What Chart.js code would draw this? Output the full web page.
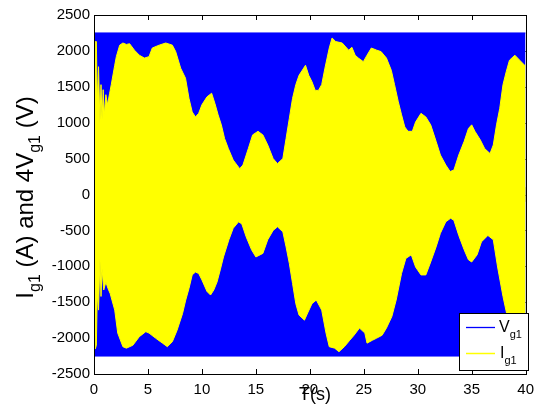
<!DOCTYPE html>
<html lang="en">
<head>
  <meta charset="UTF-8">
  <title>Ig1 and 4Vg1</title>
  <style>
    body { margin: 0; background: #fff; }
    canvas { display: block; }
  </style>
</head>
<body>
  <canvas id="chart" width="541" height="409"></canvas>
  <script src="https://cdn.jsdelivr.net/npm/chart.js"></script>
  <script>
    // V_g1 (x4) band: fast oscillation, seen as a solid band
    const vTime = [0, 40];
    const vHigh = [2250, 2250];
    const vLow = [-2250, -2250];

    // I_g1 upper envelope
    const upperTime = [0, 0.12, 0.22, 0.3, 0.42, 0.55, 0.65, 0.75, 0.85, 0.95, 1.1, 1.25, 1.45, 1.6, 1.92, 2.07, 2.38, 2.68, 3.0, 3.3,
      3.75, 4.2, 4.67, 5.1, 5.4, 6.04, 6.65, 7.26, 7.57, 8.03, 8.48, 8.8, 9.1, 9.4, 9.7, 10.0, 10.47, 10.9, 11.2, 11.5,
      11.8, 12.1, 12.45, 12.9, 13.5, 13.8, 14.3, 14.7, 15.2, 15.65, 16.1, 16.6, 17.0, 17.5, 17.8, 18.1, 18.4, 18.7, 19.0, 19.3,
      19.6, 19.9, 20.2, 20.5, 20.8, 21.1, 21.4, 21.8, 22.06, 22.4, 23.0, 23.6, 23.9, 24.2, 24.5, 24.96, 25.3, 25.7, 26.2, 26.6,
      27.1, 27.55, 27.85, 28.2, 28.5, 28.8, 29.1, 29.5, 29.8, 30.3, 30.75, 31.2, 31.7, 32.1, 32.6, 33.0, 33.35, 33.8, 34.3, 34.7,
      35.0, 35.3, 35.8, 36.2, 36.7, 37.0, 37.3, 37.6, 37.9, 38.2, 38.5, 39.0, 39.45, 39.9, 40];
    const upperI = [850, 2130, 2130, 1250, 1780, 1000, 1530, 1040, 1460, 1100, 1390, 1250, 1410, 1530, 1800, 1920, 2080, 2110, 2090, 2100,
      2010, 1940, 1900, 1920, 2040, 2080, 2110, 2080, 1990, 1760, 1620, 1340, 1150, 1080, 1130, 1250, 1360, 1410, 1270, 1110,
      970, 780, 640, 480, 360, 410, 640, 830, 880, 830, 690, 500, 430, 500, 780, 1060, 1340, 1530, 1660, 1730,
      1800, 1660, 1570, 1450, 1450, 1530, 1760, 2040, 2180, 2130, 2110, 2010, 2050, 1940, 1900, 1850, 1940, 2040, 2010, 1990,
      1900, 1730, 1530, 1290, 1110, 940, 880, 880, 1010, 1130, 1080, 970, 740, 550, 410, 320, 340, 550, 740, 920,
      970, 880, 760, 640, 570, 690, 970, 1200, 1530, 1710, 1870, 1940, 1870, 1800, 1800];

    // I_g1 lower envelope
    const lowerTime = [0, 0.12, 0.22, 0.3, 0.42, 0.55, 0.65, 0.75, 0.9, 1.1, 1.3, 1.5, 1.92, 2.2, 2.68, 3.0, 3.6, 4.2, 4.8, 5.1,
      5.7, 6.35, 6.8, 7.26, 7.7, 8.2, 8.5, 8.8, 9.1, 9.4, 9.7, 10.0, 10.47, 10.8, 11.1, 11.4, 11.7, 12.0, 12.5, 12.9,
      13.4, 13.7, 14.1, 14.6, 15.0, 15.65, 16.1, 16.6, 17.0, 17.5, 17.8, 18.1, 18.4, 18.7, 19.0, 19.5, 19.8, 20.2, 20.6, 21.1,
      21.5, 21.8, 22.3, 22.7, 23.2, 23.7, 24.1, 24.6, 25.1, 25.3, 25.8, 26.2, 26.7, 27.1, 27.6, 28.0, 28.5, 28.9, 29.4, 29.8,
      30.3, 30.75, 31.2, 31.7, 32.1, 32.6, 33.05, 33.35, 33.8, 34.3, 34.7, 35.0, 35.5, 35.9, 36.5, 37.0, 37.4, 37.9, 38.3, 38.8,
      39.3, 39.8, 40];
    const lowerI = [-1240, -2150, -2100, -1380, -1610, -890, -1420, -1030, -1330, -1220, -1310, -1380, -1610, -1930, -2120, -2140, -2100, -1980, -1910, -1930,
      -2000, -2070, -2120, -2050, -1890, -1660, -1470, -1310, -1120, -1080, -1100, -1190, -1350, -1400, -1330, -1220, -1050, -870, -630, -470,
      -380, -410, -590, -770, -870, -820, -630, -500, -450, -520, -730, -960, -1240, -1520, -1680, -1750, -1650, -1520, -1470, -1610,
      -1930, -2120, -2140, -2190, -2120, -2030, -1960, -1860, -1930, -2070, -2030, -2000, -1960, -1860, -1700, -1470, -1100, -890, -840, -1010,
      -1120, -1120, -940, -730, -540, -380, -330, -360, -570, -770, -910, -940, -840, -660, -570, -630, -1010, -1420, -1700, -1850,
      -1900, -1820, -1800];

    const xTicks = [0, 5, 10, 15, 20, 25, 30, 35, 40];
    const yTicks = [-2500, -2000, -1500, -1000, -500, 0, 500, 1000, 1500, 2000, 2500];

    const BLUE = '#0000ff';
    const YELLOW = '#ffff00';
    const FONT = 'Liberation Sans, Arial, sans-serif';

    const pts = (xs, ys) => xs.map((x, i) => ({ x: x, y: ys[i] }));

    // fill reaches a bit past zero so the two halves overlap (no seam)
    const band = (label, xs, ys, color, order, fillTo) => ({
      label: label,
      data: pts(xs, ys),
      borderColor: color,
      backgroundColor: color,
      borderWidth: 1,
      pointRadius: 0,
      tension: 0,
      fill: { value: fillTo },
      order: order
    });

    // draws text made of [string, isSub] pieces starting at x
    const drawPieces = (ctx, pieces, x, y, size, subSize, subShift) => {
      ctx.textAlign = 'left';
      ctx.textBaseline = 'alphabetic';
      pieces.forEach(([txt, sub]) => {
        ctx.font = (sub ? subSize : size) + 'px ' + FONT;
        ctx.fillText(txt, x, sub ? y + subShift : y);
        x += ctx.measureText(txt).width;
      });
    };

    const piecesWidth = (ctx, pieces, size, subSize) => pieces.reduce((w, [txt, sub]) => {
      ctx.font = (sub ? subSize : size) + 'px ' + FONT;
      return w + ctx.measureText(txt).width;
    }, 0);

    const matlabBox = {
      id: 'matlabBox',
      beforeDatasetsDraw(chart) {
        const { ctx, chartArea: a, scales } = chart;
        ctx.save();
        ctx.strokeStyle = '#000';
        ctx.lineWidth = 1;
        ctx.beginPath();
        xTicks.forEach(v => {
          const px = Math.round(scales.x.getPixelForValue(v)) + 0.5;
          ctx.moveTo(px, a.bottom); ctx.lineTo(px, a.bottom - 5);
          ctx.moveTo(px, a.top); ctx.lineTo(px, a.top + 5);
        });
        yTicks.forEach(v => {
          const py = Math.round(scales.y.getPixelForValue(v)) + 0.5;
          ctx.moveTo(a.left, py); ctx.lineTo(a.left + 5, py);
          ctx.moveTo(a.right, py); ctx.lineTo(a.right - 5, py);
        });
        ctx.stroke();
        ctx.restore();
      },
      afterDraw(chart) {
        const { ctx, chartArea: a } = chart;
        ctx.save();
        ctx.strokeStyle = '#000';
        ctx.lineWidth = 1;
        ctx.strokeRect(Math.round(a.left) + 0.5, Math.round(a.top) + 0.5,
          Math.round(a.right - a.left), Math.round(a.bottom - a.top));

        ctx.fillStyle = '#000';
        // y axis title, rotated
        const yPieces = [['I', false], ['g1', true], [' (A) and 4V', false], ['g1', true], [' (V)', false]];
        const w = piecesWidth(ctx, yPieces, 24, 16);
        ctx.translate(33, (a.top + a.bottom) / 2 + 3);
        ctx.rotate(-Math.PI / 2);
        drawPieces(ctx, yPieces, -w / 2, 0, 24, 16, 7);
        ctx.setTransform(1, 0, 0, 1, 0, 0);

        // x axis title
        ctx.font = '18px ' + FONT;
        ctx.textAlign = 'center';
        ctx.textBaseline = 'alphabetic';
        ctx.fillText('T(s)', 315, 400);

        // legend
        const lx = 459, ly = 313, lw = 69, lh = 57;
        ctx.fillStyle = '#fff';
        ctx.fillRect(lx, ly, lw, lh);
        ctx.strokeRect(lx + 0.5, ly + 0.5, lw, lh);
        ctx.lineWidth = 1.3;
        ctx.strokeStyle = BLUE;
        ctx.beginPath(); ctx.moveTo(466, 327.5); ctx.lineTo(495, 327.5); ctx.stroke();
        ctx.strokeStyle = YELLOW;
        ctx.lineWidth = 1.5;
        ctx.beginPath(); ctx.moveTo(466, 353.5); ctx.lineTo(495, 353.5); ctx.stroke();
        ctx.fillStyle = '#000';
        drawPieces(ctx, [['V', false], ['g1', true]], 499, 332, 16, 11, 6);
        drawPieces(ctx, [['I', false], ['g1', true]], 500, 358, 16, 11, 6);
        ctx.restore();
      }
    };

    new Chart(document.getElementById('chart'), {
      type: 'line',
      data: {
        datasets: [
          band('Vg1', vTime, vHigh, BLUE, 2, -100),
          band('', vTime, vLow, BLUE, 2, 100),
          band('Ig1', upperTime, upperI, YELLOW, 1, -100),
          band('', lowerTime, lowerI, YELLOW, 1, 100)
        ]
      },
      options: {
        responsive: false,
        animation: false,
        layout: { padding: { left: 0, right: 10, top: 15, bottom: 0 } },
        plugins: {
          legend: { display: false },
          tooltip: { enabled: false }
        },
        scales: {
          x: {
            type: 'linear',
            min: 0,
            max: 40,
            afterFit: s => { s.height = 35; },
            afterBuildTicks: s => { s.ticks = xTicks.map(v => ({ value: v })); },
            grid: { display: false, drawTicks: false },
            border: { display: false },
            ticks: { color: '#000', padding: 7, maxRotation: 0, font: { family: FONT, size: 15 }, callback: v => String(v) }
          },
          y: {
            min: -2500,
            max: 2500,
            afterFit: s => { s.width = 94; },
            afterBuildTicks: s => { s.ticks = yTicks.map(v => ({ value: v })); },
            grid: { display: false, drawTicks: false },
            border: { display: false },
            ticks: { color: '#000', padding: 4, font: { family: FONT, size: 15 }, callback: v => String(v) }
          }
        }
      },
      plugins: [matlabBox]
    });
  </script>
</body>
</html>
